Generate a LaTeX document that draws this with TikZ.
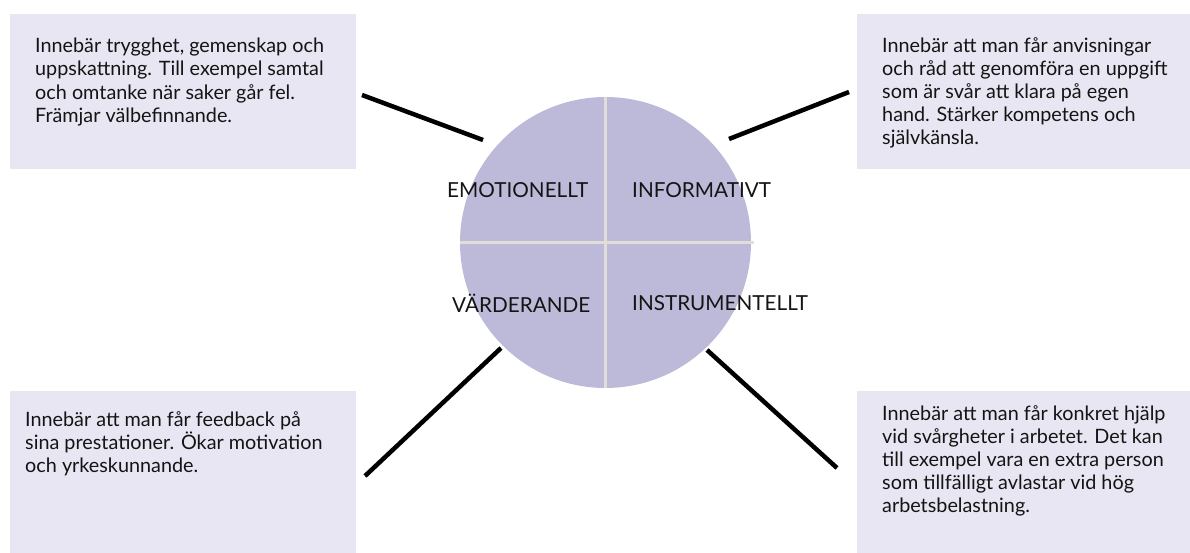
\documentclass[tikz,border=0pt]{standalone}
\usepackage{fontspec}
\setmainfont{Lato}
\definecolor{boxfill}{HTML}{E8E6F2}
\definecolor{circfill}{HTML}{BDBAD9}
\definecolor{divline}{HTML}{E2DDD6}
\definecolor{inktext}{HTML}{141414}
\begin{document}
\begin{tikzpicture}[x=1pt,y=-1pt,
  infobox/.style={fill=boxfill, draw=none, inner sep=0, anchor=north west},
  infotext/.style={anchor=north west, align=left, inner sep=0, text=inktext,
    font=\fontsize{19.8}{23.2}\selectfont},
  quadlabel/.style={inner sep=0, text=inktext, font=\fontsize{20.7}{22}\selectfont},
  spoke/.style={line width=4.5pt, black},
  divider/.style={line width=2.6pt, divline}
]
\useasboundingbox (0,0) rectangle (1190,553);

% boxes
\node[infobox, minimum width=346pt, minimum height=155pt] (boxA) at (10,14) {};
\node[infobox, minimum width=333pt, minimum height=155pt] (boxB) at (857,14) {};
\node[infobox, minimum width=346pt, minimum height=162pt] (boxC) at (10,391) {};
\node[infobox, minimum width=333pt, minimum height=162pt] (boxD) at (857,391) {};

% texts
\node[infotext] (txtA) at (35,38) {Innebär trygghet, gemenskap och\\uppskattning. Till exempel samtal\\och omtanke när saker går fel.\\Främjar välbefinnande.};
\node[infotext] (txtB) at (882,37) {Innebär att man får anvisningar\\och råd att genomföra en uppgift\\som är svår att klara på egen\\hand. Stärker kompetens och\\självkänsla.};
\node[infotext] (txtC) at (25,411) {Innebär att man får feedback på\\sina prestationer. Ökar motivation\\och yrkeskunnande.};
\node[infotext] (txtD) at (882,405) {Innebär att man får konkret hjälp\\vid svårgheter i arbetet. Det kan\\till exempel vara en extra person\\som tillfälligt avlastar vid hög\\arbetsbelastning.};

% circle
\node[circle, fill=circfill, draw=none, minimum size=291pt, inner sep=0] (wheel) at (605.5,242.5) {};
\draw[divider] (wheel.north) -- (wheel.south);
\coordinate (hend) at (754,242.5);
\draw[divider] (wheel.west) -- (hend);

% quadrant labels
\node[quadlabel, anchor=west] (emo) at (447,190.5) {EMOTIONELLT};
\node[quadlabel, anchor=west] (info) at (632,190.5) {INFORMATIVT};
\node[quadlabel, anchor=west] (vard) at (452,303.5) {VÄRDERANDE};
\node[quadlabel, anchor=west] (instr) at (632,303.5) {INSTRUMENTELLT};

% spokes
\coordinate (sA1) at (362,95);  \coordinate (sA2) at (483,140);
\coordinate (sB1) at (729,139); \coordinate (sB2) at (849,92);
\coordinate (sC1) at (501,348); \coordinate (sC2) at (365,476);
\coordinate (sD1) at (707,350); \coordinate (sD2) at (837,468);
\draw[spoke] (sA1) -- (sA2);
\draw[spoke] (sB1) -- (sB2);
\draw[spoke] (sC1) -- (sC2);
\draw[spoke] (sD1) -- (sD2);
\end{tikzpicture}
\end{document}
